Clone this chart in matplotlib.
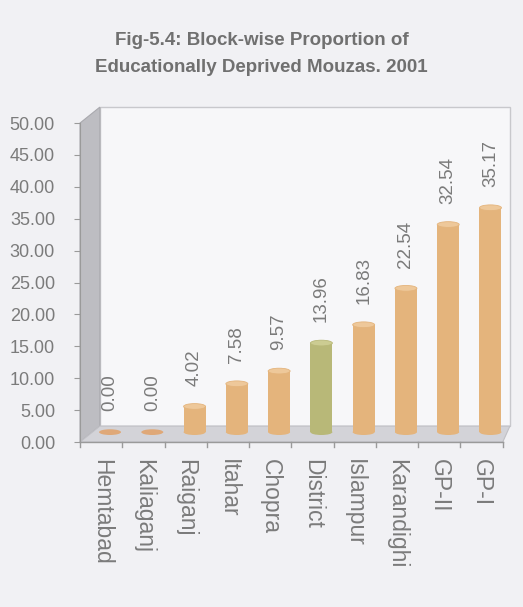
import matplotlib
matplotlib.use('Agg')
import matplotlib.pyplot as plt
from matplotlib.patches import Polygon, Ellipse, Rectangle

# ==========================================
# Data
# ==========================================
BLOCKS = ['Hemtabad', 'Kaliaganj', 'Raiganj', 'Itahar', 'Chopra',
          'District', 'Islampur', 'Karandighi', 'GP-II', 'GP-I']
VALUES = [0.00, 0.00, 4.02, 7.58, 9.57, 13.96, 16.83, 22.54, 32.54, 35.17]
Y_TICKS = [0, 5, 10, 15, 20, 25, 30, 35, 40, 45, 50]

BG = '#f1f1f4'
ORANGE = '#e4b47c'
ORANGE_TOP = '#eec89a'
GREEN = '#b8b878'
GREEN_TOP = '#cccc92'
TEXT = '#7b7b7b'

plt.rcParams['font.family'] = ['Liberation Sans', 'DejaVu Sans']

fig = plt.figure(figsize=(5.23, 6.07), dpi=100, facecolor=BG)
ax = fig.add_axes([0.153, 0.2718, 0.822, 0.5255])
ax.set_facecolor('none')

n = len(BLOCKS)
x_right = n - 0.5 + 0.17
ax.set_xlim(-0.5, x_right)
ax.set_ylim(0, 50)

# 3D box depth (data units)
dx, dy = 0.47, 2.5

# back wall
ax.add_patch(Rectangle((-0.5 + dx, dy), x_right - (-0.5 + dx), 50, facecolor='#f7f7f9',
                       edgecolor='#c8c8cc', lw=1.0, clip_on=False, zorder=0))
# left wall
ax.add_patch(Polygon([(-0.5, 0), (-0.5 + dx, dy), (-0.5 + dx, 50 + dy), (-0.5, 50)],
                     closed=True, facecolor='#bdbdc2', edgecolor='#a9a9ae', lw=0.8,
                     clip_on=False, zorder=1))
# floor
ax.add_patch(Polygon([(-0.5, 0), (n - 0.5, 0), (x_right, dy), (-0.5 + dx, dy)],
                     closed=True, facecolor='#d3d3d8', edgecolor='#c0c0c5', lw=0.8,
                     clip_on=False, zorder=1))

# cylinders
bw = 0.52
base = 1.55
for i, (name, v) in enumerate(zip(BLOCKS, VALUES)):
    body = GREEN if name == 'District' else ORANGE
    top = GREEN_TOP if name == 'District' else ORANGE_TOP
    xc = i + 0.21
    if v > 0:
        ax.bar(xc, v, width=bw, bottom=base, color=body, edgecolor='none', zorder=3)
        ax.add_patch(Ellipse((xc, base + v), bw, 0.9, facecolor=top, edgecolor=body,
                             lw=0.6, zorder=4))
        ax.add_patch(Ellipse((xc, base), bw, 0.9, facecolor=body, edgecolor='none', zorder=2))
    else:
        ax.add_patch(Ellipse((xc, base), bw, 0.9, facecolor='#dfa878', edgecolor='none', zorder=3))
    ax.annotate(f'{v:.2f}', (xc, base + v), xytext=(0, 15), textcoords='offset points',
                rotation=90, ha='center', va='bottom', fontsize=13.5, color=TEXT, zorder=5)

# axes styling
for s in ['top', 'right', 'bottom']:
    ax.spines[s].set_visible(False)
ax.spines['left'].set_color('#9a9a9a')
ax.set_yticks(Y_TICKS)
ax.set_yticklabels([f'{t:.2f}' for t in Y_TICKS], fontsize=13, color=TEXT)
ax.tick_params(axis='y', length=4, color='#9a9a9a', pad=14)

ax.set_xticks(range(n))
ax.set_xticklabels(BLOCKS, rotation=270, fontsize=16.5, color=TEXT, va='top', ha='center')
ax.tick_params(axis='x', length=0, pad=12)
ax.plot([-0.5, n - 0.5], [0, 0], color='#9a9a9a', lw=1.0, clip_on=False, zorder=2)
for b in range(n + 1):
    ax.plot([b - 0.5, b - 0.5], [0, -0.8], color='#9a9a9a', lw=1.0, clip_on=False, zorder=2)

fig.text(0.5, 0.934, 'Fig-5.4: Block-wise Proportion of', ha='center', va='center',
         fontsize=13.5, fontweight='bold', color='#707070')
fig.text(0.5, 0.889, 'Educationally Deprived Mouzas. 2001', ha='center', va='center',
         fontsize=13.5, fontweight='bold', color='#707070')

fig.savefig('out.png', dpi=100, facecolor=BG)
